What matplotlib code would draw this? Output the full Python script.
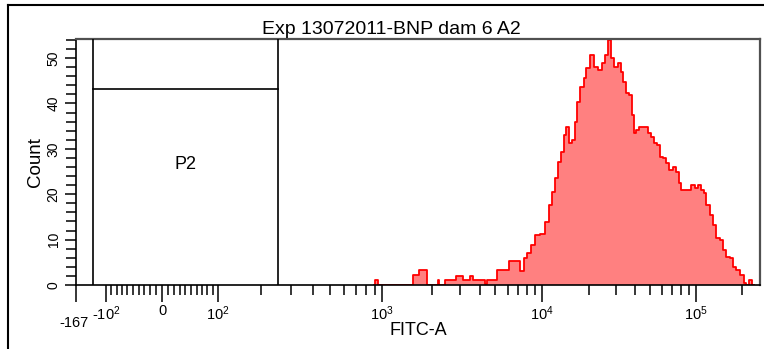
import numpy as np
import matplotlib
matplotlib.use("Agg")
import matplotlib.pyplot as plt
from matplotlib.lines import Line2D

plt.rcParams['font.family'] = ['Liberation Sans', 'DejaVu Sans']
plt.rcParams['mathtext.fontset'] = 'custom'
plt.rcParams['mathtext.rm'] = 'Liberation Sans'

# ---------------- data ----------------
title = "Exp 13072011-BNP dam 6 A2"
x_label = "FITC-A"
y_label = "Count"
gate_name = "P2"
gate_lo, gate_hi, gate_level = -127, 254, 43.2

fitc = [888, 925, 964, 1484, 1570, 1759, 1944, 2150, 2181, 2245,
        2377, 2447, 2748, 2870, 3041, 3178, 3417, 3519, 3678, 4197,
        4323, 4518, 4935, 5237, 5896, 6348, 6840, 7478, 7816, 8174,
        8806, 9212, 10229, 10695, 11357, 11877, 12423, 12996, 13390, 14009,
        14433, 15330, 15800, 16526, 17032, 18083, 18918, 19498, 21011, 21985,
        23702, 24803, 25947, 27145, 28405, 30171, 32043, 33031, 34036, 35616,
        37830, 38397, 40183, 41408, 43990, 47457, 49653, 51941, 54359, 56876,
        59508, 62274, 65157, 68189, 72431, 75786, 78123, 81740, 90872, 95081,
        101034, 105716, 110630, 114012, 119325, 126749, 132620, 138796, 147483, 154318,
        161510, 171563, 179514, 187877, 202666, 208876, 218603, 228750, 239364]
counts = [0, 1.1, 0, 0, 2.2, 3.3, 0, 0, 1, 0,
          0, 1, 1, 2, 2, 1, 1, 2, 1, 1,
          0.3, 1, 1, 3.3, 3.3, 5.3, 5.3, 3.1, 6, 7,
          8.8, 11, 11.2, 13.9, 17.6, 20.5, 23.6, 27, 29.3, 33,
          34.8, 31.3, 32, 35.9, 40.3, 43.6, 45.6, 47.8, 50.7, 48,
          47.4, 48.9, 50.7, 54, 50, 48, 48.9, 46.9, 44.7, 42.3,
          41.9, 37.4, 33.5, 34.1, 34.8, 34.8, 33.5, 32.6, 31.3, 30.8,
          28.2, 28, 26.9, 25.3, 26, 24.9, 22.5, 20.9, 20.9, 22,
          21.4, 22, 20.9, 20.2, 17.6, 15.4, 13.2, 10.4, 9.9, 7.7,
          6.2, 5.9, 4, 3.3, 2.2, 0.4, 0, 1.1, 0]

x_min, x_max = -167, 262144
y_max = 54.2
x_major = [-167, -100, 0, 100, 1000, 10000, 100000]
x_major_labels = ["", r"-$\mathregular{10^{2}}$", "0", r"$\mathregular{10^{2}}$",
                  r"$\mathregular{10^{3}}$", r"$\mathregular{10^{4}}$", r"$\mathregular{10^{5}}$"]
x_minor = ([-90, -80, -70, -60, -50, -40, -30, -20, -10,
            10, 20, 30, 40, 50, 60, 70, 80, 90,
            200, 300, 400, 500, 600, 700, 800, 900,
            2000, 3000, 4000, 5000, 6000, 7000, 8000, 9000,
            20000, 30000, 40000, 50000, 60000, 70000, 80000, 90000,
            200000])
y_major = [0, 10, 20, 30, 40, 50]
y_minor = [2, 4, 6, 8, 12, 14, 16, 18, 22, 24, 26, 28, 32, 34, 36, 38,
           42, 44, 46, 48, 52, 54]

# ------------- biexponential (logicle) scale -------------
T, M, P = 262144.0, 4.5, 2.55
W = 2 * P * np.log10(P) / (P + 1)


def _biex(y):
    y = np.asarray(y, dtype=float)
    d = y - W
    a = np.abs(d)
    v = T * 10 ** (-(M - W)) * (10 ** a - P ** 2 * 10 ** (-a / P) + P ** 2 - 1)
    return np.sign(d) * v


_yg = np.linspace(-1.5, 5.5, 40001)
_xg = _biex(_yg)


def fwd(x):
    return np.interp(np.asarray(x, dtype=float), _xg, _yg)


def inv(y):
    return np.interp(np.asarray(y, dtype=float), _yg, _xg)


# ---------------- figure ----------------
W_PX, H_PX = 764, 349
fig = plt.figure(figsize=(W_PX / 100, H_PX / 100), dpi=100)
ax = fig.add_axes([76 / W_PX, 1 - 285 / H_PX, (760 - 76) / W_PX, (285 - 39) / H_PX])
ax.set_xscale('function', functions=(fwd, inv))
ax.set_xlim(x_min, x_max)
ax.set_ylim(0, y_max)

ax.fill_between(fitc, counts, 0, color='#ff8080', lw=0, zorder=1, step='mid')
ax.plot(fitc, counts, color='#ff0000', lw=1.3, zorder=2, drawstyle='steps-mid')

# gate
ax.plot([gate_lo, gate_lo], [0, y_max], color='black', lw=1.2, zorder=3)
ax.plot([gate_hi, gate_hi], [0, y_max], color='black', lw=1.2, zorder=3)
ax.plot([gate_lo, gate_hi], [gate_level, gate_level], color='black', lw=1.2, zorder=3)
gate_mid = float(inv((fwd(gate_lo) + fwd(gate_hi)) / 2))
ax.text(gate_mid, 26.6, gate_name, ha='center', va='center', fontsize=13)

# ticks
ax.set_xticks(x_major, x_major_labels)
ax.set_xticks(x_minor, minor=True)
ax.set_yticks(y_major, [str(v) for v in y_major])
ax.set_yticks(y_minor, minor=True)
ax.tick_params(axis='x', which='major', length=12, width=1.1, pad=2, labelsize=10.5)
ax.tick_params(axis='x', which='minor', length=7, width=1.1)
ax.tick_params(axis='y', which='major', length=8, width=1.1, pad=3, labelsize=10,
               labelrotation=90)
ax.tick_params(axis='y', which='minor', length=7, width=1.1)
for lbl in ax.get_yticklabels():
    lbl.set_va('center')

ax.annotate(str(x_min), xy=(x_min, 0), xycoords='data', xytext=(-2, -31),
            textcoords='offset pixels', ha='center', va='top', fontsize=10.5,
            annotation_clip=False)

# spines
for s in ('left', 'bottom'):
    ax.spines[s].set_color('black')
    ax.spines[s].set_linewidth(1.2)
for s in ('top', 'right'):
    ax.spines[s].set_color('#505050')
    ax.spines[s].set_linewidth(1.6)

# labels
ax.set_xlabel(x_label, fontsize=13)
ax.xaxis.set_label_coords(0.5, -0.150)
ax.set_ylabel(y_label, fontsize=13.5, va='center')
ax.yaxis.set_label_coords(-0.0585, 0.5)
fig.text(391 / W_PX, 1 - 33.5 / H_PX, title, ha='center', va='baseline', fontsize=14)

# outer frame (partially visible)
fig.add_artist(Line2D([8 / W_PX, 8 / W_PX], [0, 1 - 4.5 / H_PX], color='black', lw=1.5,
                      transform=fig.transFigure))
fig.add_artist(Line2D([8 / W_PX, 1], [1 - 4.5 / H_PX, 1 - 4.5 / H_PX], color='black', lw=1.5,
                      transform=fig.transFigure))

fig.savefig('out.png', dpi=100)
